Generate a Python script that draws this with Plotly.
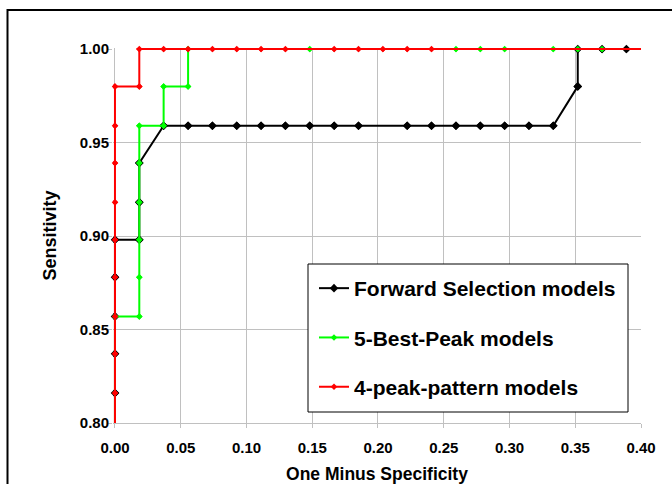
import plotly.graph_objects as go

# ROC curves: one minus specificity (x) vs sensitivity (y)
fs_x = [0.0, 0.0, 0.0, 0.0, 0.0, 0.0, 0.0185, 0.0185, 0.0185, 0.0370, 0.0556, 0.0741,
        0.0926, 0.1111, 0.1296, 0.1481, 0.1667, 0.1852, 0.2222, 0.2407, 0.2593, 0.2778,
        0.2963, 0.3148, 0.3333, 0.3519, 0.3519, 0.3704, 0.3889]
fs_y = [0.0, 0.816, 0.837, 0.857, 0.878, 0.898, 0.898, 0.918, 0.939, 0.959, 0.959, 0.959,
        0.959, 0.959, 0.959, 0.959, 0.959, 0.959, 0.959, 0.959, 0.959, 0.959,
        0.959, 0.959, 0.959, 0.980, 1.0, 1.0, 1.0]

bp_x = [0.0, 0.0, 0.0185, 0.0185, 0.0185, 0.0185, 0.0185, 0.0185, 0.0370, 0.0370, 0.0556,
        0.0556, 0.1481, 0.2593, 0.2778, 0.2963, 0.3333, 0.3519, 0.3704]
bp_y = [0.0, 0.857, 0.857, 0.878, 0.898, 0.918, 0.939, 0.959, 0.959, 0.980, 0.980,
        1.0, 1.0, 1.0, 1.0, 1.0, 1.0, 1.0, 1.0]

pp_x = [0.0, 0.0, 0.0, 0.0, 0.0, 0.0, 0.0, 0.0, 0.0, 0.0, 0.0185, 0.0185, 0.0370, 0.0556,
        0.0741, 0.0926, 0.1111, 0.1296, 0.1667, 0.1852, 0.2037, 0.2222, 0.2407, 1.0]
pp_y = [0.0, 0.816, 0.837, 0.857, 0.878, 0.898, 0.918, 0.939, 0.959, 0.980, 0.980, 1.0,
        1.0, 1.0, 1.0, 1.0, 1.0, 1.0, 1.0, 1.0, 1.0, 1.0, 1.0, 1.0]

series = [
    ("Forward Selection models", fs_x, fs_y, "#000000", 6.6),
    ("5-Best-Peak models", bp_x, bp_y, "#00FF00", 5.0),
    ("4-peak-pattern models", pp_x, pp_y, "#FF0000", 5.0),
]

x_ticks = [0.0, 0.05, 0.10, 0.15, 0.20, 0.25, 0.30, 0.35, 0.40]
y_ticks = [0.80, 0.85, 0.90, 0.95, 1.00]

FONT = "Liberation Sans, Arial, sans-serif"
GRID = "#C0C0C0"

fig = go.Figure()
for name, xs, ys, color, msize in series:
    # connecting line (clipped to the plot area) with legend entry
    fig.add_trace(go.Scatter(
        x=xs, y=ys, name=name, mode="lines+markers",
        legendgroup=name,
        line=dict(color=color, width=2),
        marker=dict(symbol="diamond", size=msize, color=color, line=dict(width=0)),
    ))
    # markers drawn unclipped so points on the frame edges stay whole
    fig.add_trace(go.Scatter(
        x=xs, y=ys, name=name, mode="markers", showlegend=False,
        legendgroup=name, cliponaxis=False, hoverinfo="skip",
        marker=dict(symbol="diamond", size=msize, color=color, line=dict(width=0)),
    ))

# plot-area pixel frame used to place paper-referenced shapes
L, R, T, B = 113, 31, 48, 61
W, H = 672 - L - R, 484 - T - B


def px_x(p):
    return (p - L) / W


def px_y(p):
    return (484 - B - p) / H


shapes = [
    # chart-area frame
    dict(type="rect", xref="paper", yref="paper",
         x0=px_x(7.5), x1=px_x(700), y0=px_y(500), y1=px_y(10),
         line=dict(color="#000000", width=2), fillcolor="rgba(0,0,0,0)", layer="below"),
    # legend box
    dict(type="rect", xref="paper", yref="paper",
         x0=px_x(308), x1=px_x(628), y0=px_y(412), y1=px_y(264),
         line=dict(color="#000000", width=1), fillcolor="#FFFFFF", layer="above"),
]

fig.update_layout(
    width=672, height=484,
    margin=dict(l=L, r=R, t=T, b=B),
    paper_bgcolor="#FFFFFF", plot_bgcolor="#FFFFFF",
    font=dict(family=FONT, color="#000000", size=15, weight="bold"),
    showlegend=True,
    legend=dict(
        x=px_x(314), y=px_y(268), xanchor="left", yanchor="top",
        bgcolor="rgba(0,0,0,0)", borderwidth=0,
        font=dict(family=FONT, size=21, color="#000000", weight="bold"),
        tracegroupgap=19, itemwidth=30,
    ),
    shapes=shapes,
    xaxis=dict(
        range=[-0.0015, 0.40], tickvals=x_ticks, tickformat=".2f",
        showgrid=True, gridcolor=GRID, gridwidth=1, zeroline=False,
        showline=True, linecolor=GRID, linewidth=1, mirror=False,
        ticks="outside", ticklen=4, tickcolor=GRID,
        ticklabelstandoff=7,
        tickfont=dict(family=FONT, size=15, weight="bold"),
        title=dict(text="One Minus Specificity", standoff=14,
                   font=dict(family=FONT, size=17.5, weight="bold")),
        automargin=False,
    ),
    yaxis=dict(
        range=[0.80, 1.000535], tickvals=y_ticks, tickformat=".2f",
        showgrid=True, gridcolor=GRID, gridwidth=1, zeroline=False,
        showline=False,
        ticks="outside", ticklen=4, tickcolor=GRID,
        ticklabelstandoff=-4,
        tickfont=dict(family=FONT, size=15, weight="bold"),
        title=dict(text="Sensitivity", standoff=18,
                   font=dict(family=FONT, size=18, weight="bold")),
        automargin=False,
    ),
)

fig.write_html("out.html")
